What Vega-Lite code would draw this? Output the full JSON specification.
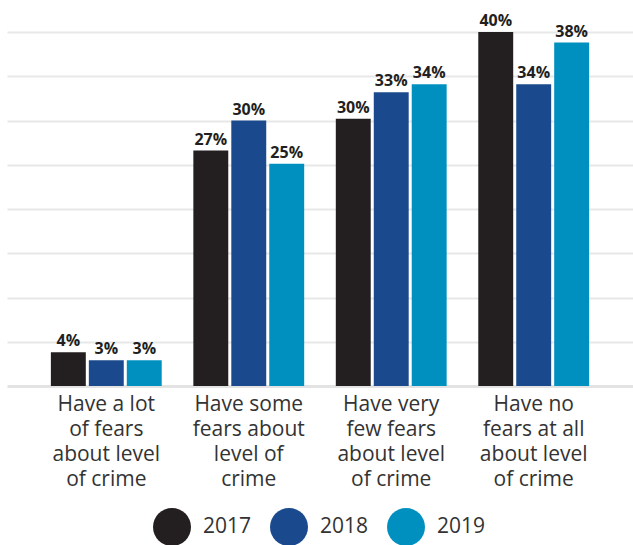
{
  "$schema": "https://vega.github.io/schema/vega-lite/v6.json",
  "width": 626,
  "height": 354,
  "autosize": "none",
  "padding": {"left": 7, "top": 32, "right": 0, "bottom": 159},
  "config": {
    "font": "Open Sans",
    "view": {"stroke": null}
  },
  "data": {
    "values": [
      {"category": "Have a lot of fears about level of crime", "year": "2017", "value": 3.8, "label": "4%"},
      {"category": "Have a lot of fears about level of crime", "year": "2018", "value": 2.9, "label": "3%"},
      {"category": "Have a lot of fears about level of crime", "year": "2019", "value": 2.9, "label": "3%"},
      {"category": "Have some fears about level of crime", "year": "2017", "value": 26.6, "label": "27%"},
      {"category": "Have some fears about level of crime", "year": "2018", "value": 30.0, "label": "30%"},
      {"category": "Have some fears about level of crime", "year": "2019", "value": 25.1, "label": "25%"},
      {"category": "Have very few fears about level of crime", "year": "2017", "value": 30.2, "label": "30%"},
      {"category": "Have very few fears about level of crime", "year": "2018", "value": 33.2, "label": "33%"},
      {"category": "Have very few fears about level of crime", "year": "2019", "value": 34.1, "label": "34%"},
      {"category": "Have no fears at all about level of crime", "year": "2017", "value": 40.0, "label": "40%"},
      {"category": "Have no fears at all about level of crime", "year": "2018", "value": 34.1, "label": "34%"},
      {"category": "Have no fears at all about level of crime", "year": "2019", "value": 38.8, "label": "38%"}
    ]
  },
  "encoding": {
    "x": {
      "field": "category",
      "type": "nominal",
      "sort": null,
      "scale": {"paddingInner": 0.222, "paddingOuter": 0.308},
      "axis": {
        "title": null,
        "labelAngle": 0,
        "labelFontSize": 21,
        "labelColor": "#333333",
        "labelLineHeight": 25,
        "labelPadding": 7,
        "labelBaseline": "top",
        "labelLimit": 200,
        "ticks": false,
        "domain": true,
        "domainColor": "#e3e3e3",
        "domainWidth": 3,
        "labelExpr": "datum.value == 'Have a lot of fears about level of crime' ? ['Have a lot', 'of fears', 'about level', 'of crime'] : datum.value == 'Have some fears about level of crime' ? ['Have some', 'fears about', 'level of', 'crime'] : datum.value == 'Have very few fears about level of crime' ? ['Have very', 'few fears', 'about level', 'of crime'] : ['Have no', 'fears at all', 'about level', 'of crime']"
      }
    },
    "xOffset": {
      "field": "year",
      "type": "nominal",
      "scale": {"paddingInner": 0.08, "paddingOuter": 0}
    },
    "y": {
      "field": "value",
      "type": "quantitative",
      "scale": {"domain": [0, 40], "nice": false},
      "axis": {
        "title": null,
        "labels": false,
        "ticks": false,
        "domain": false,
        "grid": true,
        "gridColor": "#e8e8e8",
        "gridWidth": 2,
        "values": [5, 10, 15, 20, 25, 30, 35, 40]
      }
    }
  },
  "layer": [
    {
      "mark": {"type": "bar"},
      "encoding": {
        "color": {
          "field": "year",
          "type": "nominal",
          "scale": {"domain": ["2017", "2018", "2019"], "range": ["#231f20", "#1a4a8d", "#0090bf"]},
          "legend": {
            "title": null,
            "orient": "none",
            "legendX": 146,
            "legendY": 476,
            "direction": "horizontal",
            "symbolType": "circle",
            "symbolSize": 1444,
            "symbolStrokeWidth": 0,
            "labelFontSize": 21,
            "labelColor": "#333333",
            "labelOffset": 12,
            "columnPadding": 18
          }
        }
      }
    },
    {
      "mark": {"type": "text", "baseline": "bottom", "dy": -3, "fontSize": 16, "fontWeight": "bold", "color": "#231f20"},
      "encoding": {
        "text": {"field": "label", "type": "nominal"}
      }
    }
  ]
}
